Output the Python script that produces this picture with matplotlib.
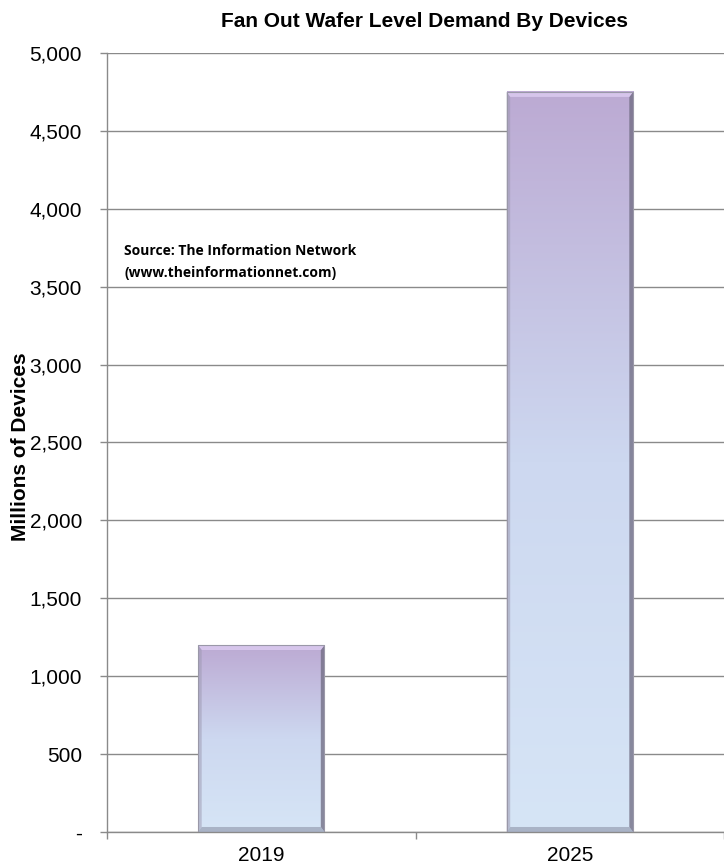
import numpy as np
import matplotlib.pyplot as plt
from matplotlib.colors import LinearSegmentedColormap
from matplotlib.patches import Rectangle, Polygon
from matplotlib.ticker import FuncFormatter

years = ['2019', '2025']
devices = [1200, 4750]

plt.rcParams['font.family'] = ['Liberation Sans', 'DejaVu Sans']

fig = plt.figure(figsize=(7.24, 8.67), dpi=100)
ax = fig.add_axes([0.1478, 0.0404, 0.8522, 0.8985])

x = np.arange(len(years))
width = 0.41
ymax = 5000
cmap = LinearSegmentedColormap.from_list('fowl', ['#d6e5f6', '#cdd8f0', '#bcaad3'])

ax.set_xlim(-0.5, 1.5)
ax.set_ylim(0, ymax)
ax.set_yticks(range(0, 5001, 500))
ax.yaxis.grid(True, color='#8a8a8a', linewidth=1.0)
ax.set_axisbelow(True)

for xi, v in zip(x, devices):
    x0, x1 = xi - width / 2, xi + width / 2
    grad = np.linspace(0, 1, 256).reshape(-1, 1)
    ax.imshow(grad, cmap=cmap, aspect='auto', origin='lower',
              extent=[x0, x1, 0, v], zorder=2)
    # bevel edges
    bx = 0.012
    by = 32
    ax.add_patch(Polygon([[x1 - bx, by], [x1, 0], [x1, v], [x1 - bx, v - by]],
                         closed=True, facecolor='#6e6a80', alpha=0.75, edgecolor='none', zorder=3))
    ax.add_patch(Polygon([[x0, v], [x1, v], [x1 - bx, v - by], [x0 + bx, v - by]],
                         closed=True, facecolor='#d9c9ee', alpha=0.9, edgecolor='none', zorder=3))
    ax.add_patch(Polygon([[x0, 0], [x0 + bx, by], [x0 + bx, v - by], [x0, v]],
                         closed=True, facecolor='#9c98b0', alpha=0.5, edgecolor='none', zorder=3))
    ax.add_patch(Polygon([[x0, 0], [x1, 0], [x1 - bx, by], [x0 + bx, by]],
                         closed=True, facecolor='#8c93a8', alpha=0.6, edgecolor='none', zorder=3))
    ax.add_patch(Rectangle((x0, 0), width, v, fill=False, edgecolor='#9a98a8',
                           linewidth=0.8, zorder=4))

ax.yaxis.set_major_formatter(FuncFormatter(lambda val, pos: '-' if val == 0 else f'{int(val):,}'))
ax.set_xticks(x)
ax.set_xticklabels(years)
ax.set_xticks([-0.5, 0.5, 1.5], minor=True)
ax.tick_params(axis='x', which='major', length=0, labelsize=15, pad=10)
ax.tick_params(axis='x', which='minor', length=5, color='#8a8a8a', width=1)
ax.tick_params(axis='y', length=5, color='#8a8a8a', width=1, labelsize=15, pad=13)

for s in ['top', 'right']:
    ax.spines[s].set_visible(False)
for s in ['left', 'bottom']:
    ax.spines[s].set_color('#8a8a8a')
    ax.spines[s].set_linewidth(1.0)

fig.text(21 / 724, 1 - 447 / 867, 'Millions of Devices', rotation=90, ha='center', va='center',
         fontsize=15, fontweight='bold')
fig.text(0.587, 0.975, 'Fan Out Wafer Level Demand By Devices', ha='center', va='center',
         fontsize=15, fontweight='bold')
ax.text(0.0276, 0.732, 'Source: The Information Network\n(www.theinformationnet.com)',
        transform=ax.transAxes, ha='left', va='center', fontsize=10, fontweight='bold',
        family=['Open Sans', 'DejaVu Sans'], linespacing=1.75)

fig.savefig('out.png', dpi=100)
